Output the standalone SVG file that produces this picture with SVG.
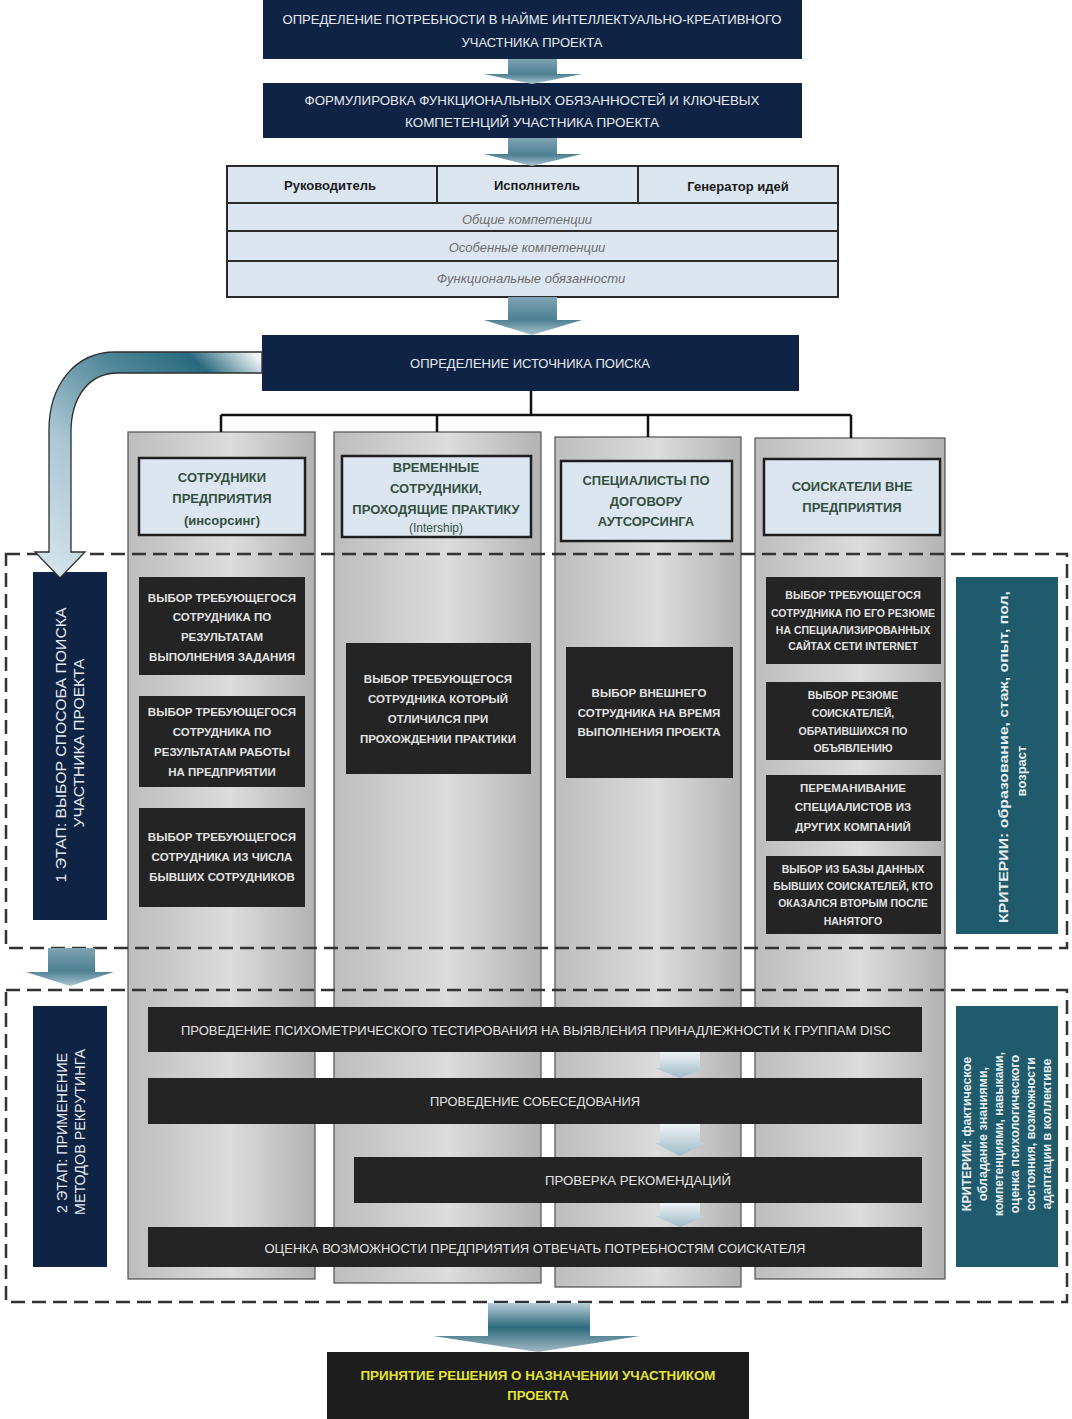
<svg xmlns="http://www.w3.org/2000/svg" width="1072" height="1419" viewBox="0 0 1072 1419">
<style>
text{font-family:"Liberation Sans",Arial,sans-serif}
.navy{fill:#0f2444}
.wt{fill:#e6eaf0;font-size:13px;text-anchor:middle;dominant-baseline:central}
.tbl{fill:#dce6f1;stroke:#2a2a2a;stroke-width:2}
.th{fill:#1a1a1a;font-size:13px;font-weight:bold;text-anchor:middle;dominant-baseline:central}
.ti{fill:#6e6e6e;font-size:13px;font-style:italic;text-anchor:middle;dominant-baseline:central}
.col{fill:url(#colGrad);stroke:#505050;stroke-width:1.2}
.hdr{fill:#dce6f1;stroke:#1e1e1e;stroke-width:2.5}
.ht{fill:#34503f;font-size:13px;font-weight:bold;text-anchor:middle;dominant-baseline:central}
.blk{fill:#242424}
.bt{fill:#e2e2e2;font-size:11.5px;font-weight:bold;text-anchor:middle;dominant-baseline:central}
.bs{fill:#e2e2e2;font-size:10.5px;font-weight:bold;text-anchor:middle;dominant-baseline:central}
.bar{fill:#242424}
.brt{fill:#e2e2e2;font-size:13px;text-anchor:middle;dominant-baseline:central}
.teal{fill:#1f5a6d}
.ct{fill:#e8eef0;font-weight:bold;text-anchor:middle;dominant-baseline:central}
.dash{fill:none;stroke:#333;stroke-width:2.5;stroke-dasharray:14 7}
.tree{fill:none;stroke:#111;stroke-width:2.5}
.blkarrow{fill:url(#arrGrad)}
.smarrow{fill:url(#smGrad)}
</style>
<defs>
<linearGradient id="colGrad" x1="0" y1="0" x2="1" y2="0">
<stop offset="0" stop-color="#bdbdbd"/>
<stop offset="0.55" stop-color="#dcdcdc"/>
<stop offset="1" stop-color="#b3b3b3"/>
</linearGradient>
<linearGradient id="arrGrad" x1="0" y1="0" x2="0" y2="1">
<stop offset="0" stop-color="#7ea3b3"/>
<stop offset="0.6" stop-color="#4d8093"/>
<stop offset="1" stop-color="#a9c3cf"/>
</linearGradient>
<linearGradient id="finGrad" x1="0" y1="0" x2="0" y2="1">
<stop offset="0" stop-color="#b6cdd8"/>
<stop offset="0.5" stop-color="#2e6b7d"/>
<stop offset="1" stop-color="#a3bac4"/>
</linearGradient>
<linearGradient id="smGrad" x1="0" y1="0" x2="0" y2="1">
<stop offset="0" stop-color="#eef3f6"/>
<stop offset="1" stop-color="#9fbac7"/>
</linearGradient>
<linearGradient id="curveGrad" gradientUnits="userSpaceOnUse" x1="262" y1="362" x2="60" y2="578">
<stop offset="0" stop-color="#eef4f7"/>
<stop offset="0.15" stop-color="#2a6a7e"/>
<stop offset="0.35" stop-color="#4f8799"/>
<stop offset="0.65" stop-color="#a9c6d3"/>
<stop offset="1" stop-color="#d3e3ea"/>
</linearGradient>
</defs>

<rect width="1072" height="1419" fill="#ffffff"/>

<g id="need">
<rect class="navy" x="263" y="0" width="539" height="59"/>
<text class="wt" x="532" y="19" textLength="499" lengthAdjust="spacingAndGlyphs">ОПРЕДЕЛЕНИЕ ПОТРЕБНОСТИ В НАЙМЕ ИНТЕЛЛЕКТУАЛЬНО-КРЕАТИВНОГО</text>
<text class="wt" x="532" y="42">УЧАСТНИКА ПРОЕКТА</text>
</g>

<g id="formulation">
<rect class="navy" x="263" y="83" width="539" height="55"/>
<text class="wt" x="532" y="100" textLength="455" lengthAdjust="spacingAndGlyphs">ФОРМУЛИРОВКА ФУНКЦИОНАЛЬНЫХ ОБЯЗАННОСТЕЙ И КЛЮЧЕВЫХ</text>
<text class="wt" x="532" y="122" textLength="254" lengthAdjust="spacingAndGlyphs">КОМПЕТЕНЦИЙ  УЧАСТНИКА ПРОЕКТА</text>
</g>

<g id="roles-table">
<rect class="tbl" x="227" y="166" width="611" height="37"/>
<line x1="437" y1="166" x2="437" y2="203" stroke="#2a2a2a" stroke-width="2"/>
<line x1="638" y1="166" x2="638" y2="203" stroke="#2a2a2a" stroke-width="2"/>
<rect class="tbl" x="227" y="203" width="611" height="28"/>
<rect class="tbl" x="227" y="231" width="611" height="30"/>
<rect class="tbl" x="227" y="261" width="611" height="36"/>
<text class="th" x="330" y="185">Руководитель</text>
<text class="th" x="537" y="185">Исполнитель</text>
<text class="th" x="738" y="186">Генератор идей</text>
<text class="ti" x="527" y="219">Общие компетенции</text>
<text class="ti" x="527" y="247">Особенные компетенции</text>
<text class="ti" x="531" y="278">Функциональные обязанности</text>
</g>

<g id="source">
<rect class="navy" x="262" y="335" width="537" height="56"/>
<text class="wt" x="530" y="363" textLength="240" lengthAdjust="spacingAndGlyphs">ОПРЕДЕЛЕНИЕ ИСТОЧНИКА ПОИСКА</text>
</g>

<g id="columns">
<g id="col-insourcing">
<rect class="col" x="128" y="432" width="187" height="847"/>
<rect class="hdr" x="139" y="458" width="166" height="77"/>
<text class="ht" x="222" y="477">СОТРУДНИКИ</text>
<text class="ht" x="222" y="498">ПРЕДПРИЯТИЯ</text>
<text class="ht" x="222" y="520">(инсорсинг)</text>
<rect class="blk" x="139" y="577" width="166" height="98"/>
<text class="bt" x="222" y="598">ВЫБОР ТРЕБУЮЩЕГОСЯ</text>
<text class="bt" x="222" y="617">СОТРУДНИКА ПО</text>
<text class="bt" x="222" y="637">РЕЗУЛЬТАТАМ</text>
<text class="bt" x="222" y="657">ВЫПОЛНЕНИЯ ЗАДАНИЯ</text>
<rect class="blk" x="139" y="696" width="166" height="91"/>
<text class="bt" x="222" y="712">ВЫБОР ТРЕБУЮЩЕГОСЯ</text>
<text class="bt" x="222" y="732">СОТРУДНИКА ПО</text>
<text class="bt" x="222" y="752">РЕЗУЛЬТАТАМ РАБОТЫ</text>
<text class="bt" x="222" y="772">НА ПРЕДПРИЯТИИ</text>
<rect class="blk" x="139" y="808" width="166" height="99"/>
<text class="bt" x="222" y="837">ВЫБОР ТРЕБУЮЩЕГОСЯ</text>
<text class="bt" x="222" y="857">СОТРУДНИКА ИЗ ЧИСЛА</text>
<text class="bt" x="222" y="877">БЫВШИХ СОТРУДНИКОВ</text>
</g>
<g id="col-internship">
<rect class="col" x="334" y="432" width="207" height="851"/>
<rect class="hdr" x="342" y="456" width="189" height="81"/>
<text class="ht" x="436" y="467">ВРЕМЕННЫЕ</text>
<text class="ht" x="436" y="488">СОТРУДНИКИ,</text>
<text class="ht" x="436" y="509">ПРОХОДЯЩИЕ ПРАКТИКУ</text>
<text class="ht" x="436" y="528" style="font-weight:normal;font-size:12px">(Intership)</text>
<rect class="blk" x="346" y="643" width="185" height="131"/>
<text class="bt" x="438" y="679">ВЫБОР ТРЕБУЮЩЕГОСЯ</text>
<text class="bt" x="438" y="699">СОТРУДНИКА КОТОРЫЙ</text>
<text class="bt" x="438" y="719">ОТЛИЧИЛСЯ ПРИ</text>
<text class="bt" x="438" y="739">ПРОХОЖДЕНИИ ПРАКТИКИ</text>
</g>
<g id="col-outsourcing">
<rect class="col" x="555" y="437" width="186" height="850"/>
<rect class="hdr" x="561" y="461" width="171" height="80"/>
<text class="ht" x="646" y="480">СПЕЦИАЛИСТЫ ПО</text>
<text class="ht" x="646" y="501">ДОГОВОРУ</text>
<text class="ht" x="646" y="521">АУТСОРСИНГА</text>
<rect class="blk" x="566" y="647" width="167" height="131"/>
<text class="bt" x="649" y="693">ВЫБОР ВНЕШНЕГО</text>
<text class="bt" x="649" y="713">СОТРУДНИКА НА ВРЕМЯ</text>
<text class="bt" x="649" y="732">ВЫПОЛНЕНИЯ ПРОЕКТА</text>
</g>
<g id="col-external">
<rect class="col" x="755" y="438" width="190" height="841"/>
<rect class="hdr" x="764" y="459" width="176" height="76"/>
<text class="ht" x="852" y="486">СОИСКАТЕЛИ ВНЕ</text>
<text class="ht" x="852" y="507">ПРЕДПРИЯТИЯ</text>
<rect class="blk" x="766" y="577" width="175" height="87"/>
<text class="bs" x="853" y="595">ВЫБОР ТРЕБУЮЩЕГОСЯ</text>
<text class="bs" x="853" y="613">СОТРУДНИКА ПО ЕГО РЕЗЮМЕ</text>
<text class="bs" x="853" y="630">НА СПЕЦИАЛИЗИРОВАННЫХ</text>
<text class="bs" x="853" y="646">САЙТАХ СЕТИ INTERNET</text>
<rect class="blk" x="766" y="682" width="175" height="78"/>
<text class="bs" x="853" y="695">ВЫБОР РЕЗЮМЕ</text>
<text class="bs" x="853" y="713">СОИСКАТЕЛЕЙ,</text>
<text class="bs" x="853" y="731">ОБРАТИВШИХСЯ ПО</text>
<text class="bs" x="853" y="748">ОБЪЯВЛЕНИЮ</text>
<rect class="blk" x="766" y="775" width="175" height="66"/>
<text class="bt" x="853" y="788">ПЕРЕМАНИВАНИЕ</text>
<text class="bt" x="853" y="807">СПЕЦИАЛИСТОВ ИЗ</text>
<text class="bt" x="853" y="827">ДРУГИХ КОМПАНИЙ</text>
<rect class="blk" x="766" y="856" width="175" height="78"/>
<text class="bs" x="853" y="869">ВЫБОР ИЗ БАЗЫ ДАННЫХ</text>
<text class="bs" x="853" y="886">БЫВШИХ СОИСКАТЕЛЕЙ, КТО</text>
<text class="bs" x="853" y="903">ОКАЗАЛСЯ ВТОРЫМ ПОСЛЕ</text>
<text class="bs" x="853" y="921">НАНЯТОГО</text>
</g>
</g>

<g id="stage1-label">
<rect class="navy" x="33" y="572" width="74" height="348"/>
<text class="wt" transform="translate(61,745) rotate(-90)" style="font-size:14px" textLength="275" lengthAdjust="spacingAndGlyphs">1 ЭТАП: ВЫБОР СПОСОБА ПОИСКА</text>
<text class="wt" transform="translate(79,743) rotate(-90)" style="font-size:14px" textLength="169" lengthAdjust="spacingAndGlyphs">УЧАСТНИКА ПРОЕКТА</text>
</g>

<g id="criteria1">
<rect class="teal" x="956" y="577" width="102" height="357"/>
<text class="ct" transform="translate(1003,757) rotate(-90)" style="font-size:13px" textLength="332" lengthAdjust="spacingAndGlyphs">КРИТЕРИИ: образование, стаж, опыт, пол,</text>
<text class="ct" transform="translate(1021,771) rotate(-90)" style="font-size:13px">возраст</text>
</g>

<g id="stage2-label">
<rect class="navy" x="33" y="1006" width="74" height="261"/>
<text class="wt" transform="translate(62,1133) rotate(-90)" style="font-size:14px" textLength="160" lengthAdjust="spacingAndGlyphs">2 ЭТАП: ПРИМЕНЕНИЕ</text>
<text class="wt" transform="translate(80,1132) rotate(-90)" style="font-size:14px" textLength="166" lengthAdjust="spacingAndGlyphs">МЕТОДОВ РЕКРУТИНГА</text>
</g>

<g id="criteria2">
<rect class="teal" x="956" y="1006" width="102" height="261"/>
<text class="ct" transform="translate(967,1134) rotate(-90)" style="font-size:12.5px">КРИТЕРИИ: фактическое</text>
<text class="ct" transform="translate(983,1134) rotate(-90)" style="font-size:12.5px">обладание знаниями,</text>
<text class="ct" transform="translate(999,1134) rotate(-90)" style="font-size:12px">компетенциями, навыками,</text>
<text class="ct" transform="translate(1015,1134) rotate(-90)" style="font-size:12.5px">оценка психологического</text>
<text class="ct" transform="translate(1031,1134) rotate(-90)" style="font-size:12.5px">состояния, возможности</text>
<text class="ct" transform="translate(1047,1134) rotate(-90)" style="font-size:12.5px">адаптации в коллективе</text>
</g>

<g id="disc-test">
<rect class="bar" x="148" y="1007" width="774" height="45"/>
<text class="brt" x="536" y="1030" textLength="710" lengthAdjust="spacingAndGlyphs">ПРОВЕДЕНИЕ ПСИХОМЕТРИЧЕСКОГО ТЕСТИРОВАНИЯ НА ВЫЯВЛЕНИЯ ПРИНАДЛЕЖНОСТИ К ГРУППАМ DISC</text>
</g>
<g id="interview">
<rect class="bar" x="148" y="1078" width="774" height="46"/>
<text class="brt" x="535" y="1101" textLength="210" lengthAdjust="spacingAndGlyphs">ПРОВЕДЕНИЕ СОБЕСЕДОВАНИЯ</text>
</g>
<g id="references">
<rect class="bar" x="354" y="1157" width="568" height="46"/>
<text class="brt" x="638" y="1180" textLength="186" lengthAdjust="spacingAndGlyphs">ПРОВЕРКА РЕКОМЕНДАЦИЙ</text>
</g>
<g id="assessment">
<rect class="bar" x="148" y="1227" width="774" height="40"/>
<text class="brt" x="535" y="1248" textLength="541" lengthAdjust="spacingAndGlyphs">ОЦЕНКА ВОЗМОЖНОСТИ ПРЕДПРИЯТИЯ ОТВЕЧАТЬ ПОТРЕБНОСТЯМ СОИСКАТЕЛЯ</text>
</g>

<g id="stage-frames">
<rect class="dash" x="6" y="554" width="1061" height="394"/>
<rect class="dash" x="6" y="990" width="1061" height="312"/>
</g>

<g id="decision">
<rect x="327" y="1352" width="422" height="67" fill="#1d1d1d"/>
<text x="538" y="1375" fill="#e4e436" font-size="13" font-weight="bold" text-anchor="middle" dominant-baseline="central" textLength="355" lengthAdjust="spacingAndGlyphs">ПРИНЯТИЕ РЕШЕНИЯ О НАЗНАЧЕНИИ УЧАСТНИКОМ</text>
<text x="538" y="1395" fill="#e4e436" font-size="13" font-weight="bold" text-anchor="middle" dominant-baseline="central">ПРОЕКТА</text>
</g>

<g id="connectors">
<path class="blkarrow" d="M508,59 L557,59 L557,74 L582,74 L532,84 L484,74 L508,74 Z"/>
<path class="blkarrow" d="M508,138 L557,138 L557,154 L582,154 L532,166 L484,154 L508,154 Z"/>
<path class="blkarrow" d="M508,297 L557,297 L557,320 L582,320 L532,335 L484,320 L508,320 Z"/>
<path class="tree" d="M531,391 V415 M221,415 H851 M221,415 V432 M437,415 V432 M648,415 V437 M851,415 V438"/>
<path d="M262,352 L115,352 C75,352 49,385 49,430 L49,552 L35,552 L60,578 L85,552 L71,552 L71,432 C71,398 88,373 118,373 L262,373 Z" fill="url(#curveGrad)" stroke="#2e2e2e" stroke-width="1.3"/>
<path class="blkarrow" d="M48,948 L95,948 L95,972 L114,972 L70,986 L26,972 L48,972 Z"/>
<path class="smarrow" d="M660,1052 L700,1052 L700,1068 L706,1068 L680,1078 L655,1068 L660,1068 Z"/>
<path class="smarrow" d="M660,1124 L700,1124 L700,1143 L706,1143 L680,1156 L655,1143 L660,1143 Z"/>
<path class="smarrow" d="M660,1203 L700,1203 L700,1216 L706,1216 L680,1227 L655,1216 L660,1216 Z"/>
<path d="M488,1303 L590,1303 L590,1336 L640,1336 L538,1352 L433,1336 L488,1336 Z" fill="url(#finGrad)"/>
</g>
</svg>
